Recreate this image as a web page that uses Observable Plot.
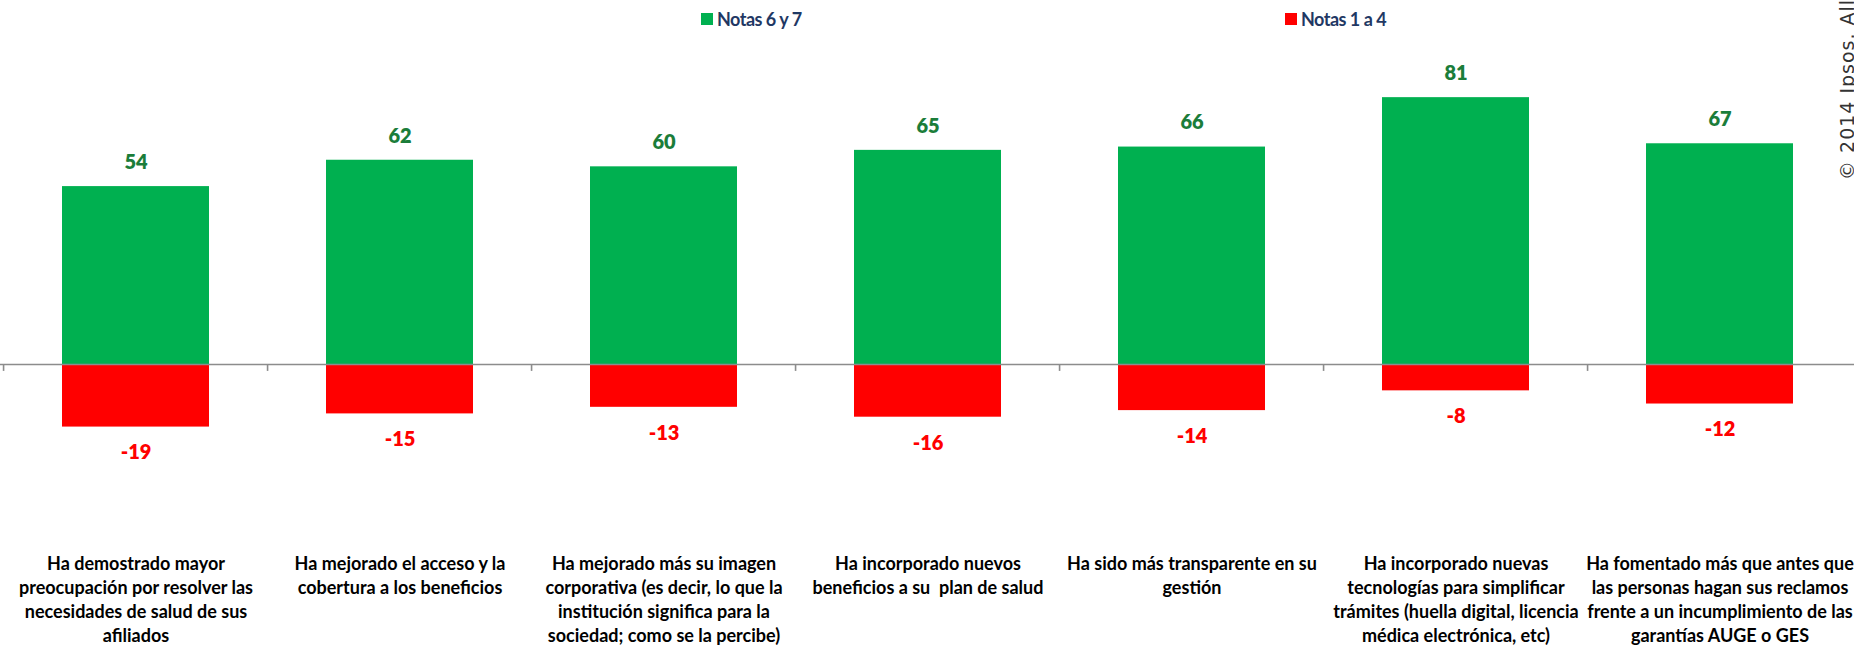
<!DOCTYPE html>
<html>
<head>
<meta charset="utf-8">
<script src="https://cdn.jsdelivr.net/npm/d3@7"></script>
<script src="https://cdn.jsdelivr.net/npm/@observablehq/plot@0.6"></script>
<style>
  html, body { margin: 0; padding: 0; background: #fff; }
  #wrap { position: relative; width: 1854px; height: 648px; overflow: hidden; font-family: Lato, "Open Sans", sans-serif; }
  #legend { position: relative; height: 40px; }
  .key { position: absolute; top: 8px; display: flex; align-items: center; font-weight: 700; font-size: 18px; letter-spacing: -0.5px; color: #1F3864; }
  .sw { width: 12px; height: 12px; margin-right: 4px; }
  #copy { position: absolute; left: 1839px; top: 180px; transform-origin: 0 0; transform: rotate(-90deg); white-space: nowrap; font-size: 19px; letter-spacing: 1px; color: #333; font-family: "DejaVu Sans", sans-serif; line-height: 17px; }
  #chart svg { display: block; }
</style>
</head>
<body>
<div id="wrap">
  <div id="legend"></div>
  <div id="chart"></div>
  <div id="copy">© 2014 Ipsos. All rights reserved.</div>
</div>
<script>
const categories = [
  "Ha demostrado mayor\npreocupación por resolver las\nnecesidades de salud de sus\nafiliados",
  "Ha mejorado el acceso y la\ncobertura a los beneficios",
  "Ha mejorado más su imagen\ncorporativa (es decir, lo que la\ninstitución significa para la\nsociedad; como se la percibe)",
  "Ha incorporado nuevos\nbeneficios a su  plan de salud",
  "Ha sido más transparente en su\ngestión",
  "Ha incorporado nuevas\ntecnologías para simplificar\ntrámites (huella digital, licencia\nmédica electrónica, etc)",
  "Ha fomentado más que antes que\nlas personas hagan sus reclamos\nfrente a un incumplimiento de las\ngarantías AUGE o GES"
];
const notas67 = [54, 62, 60, 65, 66, 81, 67];
const notas14 = [-19, -15, -13, -16, -14, -8, -12];
const seriesNames = ["Notas 6 y 7", "Notas 1 a 4"];
const seriesColors = ["#00B050", "#FF0000"];
const labelColors = ["#1B7D3A", "#FF0000"];

const pos = categories.map((c, i) => ({cat: c, v: notas67[i]}));
const neg = categories.map((c, i) => ({cat: c, v: notas14[i]}));

// legend
const legend = document.getElementById("legend");
const keyLeft = [701, 1285];
seriesNames.forEach((n, i) => {
  const k = document.createElement("div");
  k.className = "key";
  k.style.left = keyLeft[i] + "px";
  k.innerHTML = `<span class="sw" style="background:${seriesColors[i]}"></span><span>${n}</span>`;
  legend.appendChild(k);
});

const W = 1854;
const step = W / categories.length;

const chart = Plot.plot({
  width: W,
  height: 608,
  marginTop: 27.5,
  marginBottom: 88,
  marginLeft: 0,
  marginRight: 0,
  style: {fontFamily: "Lato, 'Open Sans', sans-serif", background: "white", overflow: "visible"},
  x: {type: "band", domain: categories, paddingInner: 0.445, paddingOuter: 0.2225, axis: null},
  y: {domain: [-59.5, 90], axis: null},
  marks: [
    Plot.barY(pos, {x: "cat", y: "v", fill: seriesColors[0]}),
    Plot.barY(neg, {x: "cat", y: "v", fill: seriesColors[1]}),
    Plot.ruleY([0], {stroke: "#8c8c8c", strokeWidth: 1.6}),
    Plot.ruleX(categories, {x: d => d, y1: 0, y2: -2.1, dx: -step / 2, stroke: "#8c8c8c", strokeWidth: 1.6}),
    Plot.text(pos, {x: "cat", y: "v", text: d => String(d.v), dy: -24, lineAnchor: "middle", fill: labelColors[0], fontWeight: 800, fontSize: 20}),
    Plot.text(neg, {x: "cat", y: "v", text: d => String(d.v), dy: 26, lineAnchor: "middle", fill: labelColors[1], fontWeight: 800, fontSize: 20}),
    Plot.text(categories, {x: d => d, frameAnchor: "bottom", lineAnchor: "top", dy: -8, text: d => d, fill: "#000", fontWeight: 700, fontSize: 18, lineHeight: 1.34, textAnchor: "middle"})
  ]
});
document.getElementById("chart").appendChild(chart);
</script>
</body>
</html>
